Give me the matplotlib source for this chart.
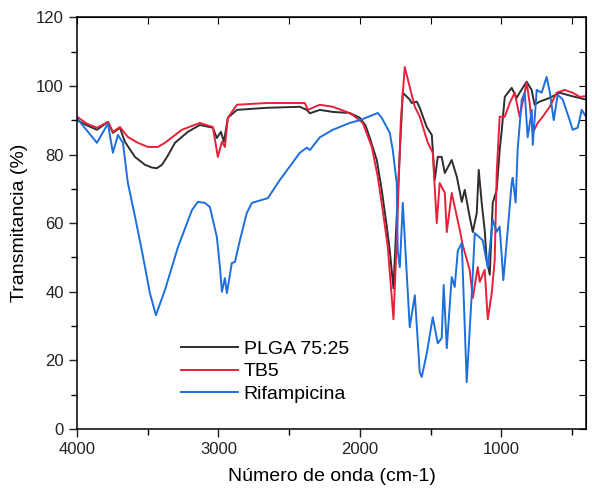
import matplotlib
matplotlib.use("Agg")
import matplotlib.pyplot as plt
from matplotlib.ticker import MultipleLocator

plt.rcParams["font.family"] = ["Liberation Sans", "DejaVu Sans"]

# FTIR spectra (wavenumber cm-1, transmittance %)
plga_x = [4000, 3930, 3859, 3781, 3746, 3696, 3661, 3590, 3519, 3470, 3435,
          3399, 3360, 3307, 3216, 3131, 3039, 3011, 2982, 2961, 2933, 2869,
          2657, 2424, 2375, 2353, 2283, 2191, 2071, 2000, 1960, 1929, 1880,
          1845, 1809, 1788, 1762, 1730, 1696, 1647, 1633, 1597, 1576, 1527,
          1491, 1470, 1449, 1421, 1399, 1350, 1314, 1279, 1258, 1223, 1201,
          1173, 1159, 1138, 1117, 1103, 1081, 1060, 1032, 1011, 996, 975,
          926, 891, 870, 820, 785, 764, 728, 657, 587, 500, 400]
plga_y = [90, 88.5, 87.2, 89.5, 86.3, 87.8, 83.7, 79.3, 77, 76.2, 76,
          77, 79.5, 83.4, 86.6, 88.6, 87.8, 84.8, 86.6, 83.7, 90.7, 93,
          93.6, 93.9, 93, 92, 93, 92.4, 92.1, 90.7, 88.5, 84.8, 78.4,
          69.7, 59, 52, 41, 70, 98, 96, 95, 95.4, 93.6, 88,
          85.7, 72.6, 79.3, 79.3, 74.6, 78.4, 73.5, 66.2, 69.7, 61.8, 57.4,
          63, 75.5, 65.9, 58, 49.3, 45, 65.9, 69.7, 81.3, 87.2, 96.8,
          99.4, 96.5, 98, 101.2, 98.8, 94.5, 95.4, 96.5, 98, 97, 96]

tb5_x = [4000, 3930, 3859, 3781, 3746, 3696, 3640, 3569, 3498, 3428, 3378,
         3258, 3131, 3039, 3004, 2975, 2954, 2933, 2869, 2657, 2389, 2367,
         2283, 2191, 2092, 2050, 1979, 1915, 1873, 1838, 1802, 1762, 1739,
         1710, 1682, 1647, 1611, 1576, 1519, 1484, 1456, 1435, 1399, 1385,
         1350, 1293, 1272, 1223, 1201, 1166, 1152, 1117, 1095, 1067, 1046,
         1032, 1011, 975, 940, 905, 870, 820, 799, 777, 742, 707, 657, 608,
         551, 495, 445, 400]
tb5_y = [91, 89, 87.8, 89.5, 86.6, 88, 85.1, 83.4, 82.2, 82.2, 83.4,
         87.2, 89.2, 88, 79.3, 83.7, 82.2, 90.7, 94.5, 95, 95, 93,
         94.5, 93.9, 92.4, 91.5, 89.2, 82.2, 73.5, 63.8, 53, 32, 55,
         90, 105.5, 99.7, 93.9, 91, 83.4, 80.5, 60, 71.7, 68.8, 57.4,
         68.8, 58, 53.6, 46.4, 38.2, 47.2, 42.9, 46.4, 32, 39.7, 49.3,
         74.6, 91, 91, 95, 98, 91, 100.9, 95, 86.3, 89.2, 91, 93.9, 98,
         98.8, 98, 96.8, 97]

rif_x = [4000, 3930, 3859, 3781, 3746, 3710, 3675, 3640, 3590, 3541, 3484,
         3442, 3378, 3286, 3187, 3145, 3095, 3060, 3011, 2989, 2975, 2954,
         2940, 2905, 2883, 2848, 2799, 2763, 2650, 2565, 2424, 2375, 2353,
         2283, 2191, 2071, 2000, 1908, 1873, 1845, 1788, 1767, 1739, 1732,
         1717, 1696, 1647, 1611, 1576, 1562, 1527, 1484, 1449, 1421, 1407,
         1385, 1350, 1329, 1307, 1279, 1244, 1208, 1187, 1131, 1095, 1060,
         1032, 1011, 985, 954, 926, 919, 898, 884, 855, 834, 813, 784, 777,
         749, 714, 679, 657, 629, 601, 565, 516, 495, 459, 431, 400]
rif_y = [90.6, 87, 83.4, 89, 80.5, 85.7, 83.4, 71.7, 62, 52, 39.6,
         33.2, 40.5, 53, 63.8, 66.2, 65.9, 64.7, 56, 47.2, 40, 44,
         39.6, 48.4, 48.7, 55, 63, 65.9, 67.3, 72.6, 80.5, 82, 81.3,
         85, 87.2, 89.2, 90, 91.5, 92.1, 90.7, 86.3, 81.3, 71.7, 52,
         47.2, 65.9, 29.7, 39, 16.5, 15.2, 22, 32.6, 25, 26.5, 42,
         23.6, 44.3, 41.4, 52, 54.2, 13.7, 39.7, 57.1, 55, 47, 61,
         57.5, 59, 43.4, 58, 71.7, 73.2, 66, 81.3, 96, 98, 85, 93, 82.8,
         98.8, 98, 102.6, 98.3, 90, 97.4, 96, 90, 87.2, 87.8, 93, 91]

labels = ["PLGA 75:25", "TB5", "Rifampicina"]
colors = ["#2e2e2e", "#e8213a", "#1c6fdc"]

fig = plt.figure(figsize=(5.92, 4.91), dpi=100)
ax = fig.add_axes([0.130, 0.126, 0.860, 0.839])

for xs, ys, lab, c in zip([plga_x, tb5_x, rif_x], [plga_y, tb5_y, rif_y],
                          labels, colors):
    ax.plot(xs, ys, color=c, lw=1.4, label=lab)

ax.set_xlim(4000, 400)
ax.set_ylim(0, 120)
ax.xaxis.set_major_locator(MultipleLocator(1000))
ax.xaxis.set_minor_locator(MultipleLocator(500))
ax.yaxis.set_major_locator(MultipleLocator(20))
ax.yaxis.set_minor_locator(MultipleLocator(10))
ax.tick_params(which="major", direction="out", length=6, width=1,
               labelsize=12, colors="#222")
ax.tick_params(which="minor", direction="out", length=4, width=1)

# inward ticks on top and right, no labels
top = ax.secondary_xaxis("top")
top.xaxis.set_major_locator(MultipleLocator(500))
top.tick_params(direction="in", length=5, labeltop=False)
right = ax.secondary_yaxis("right")
right.yaxis.set_major_locator(MultipleLocator(10))
right.tick_params(direction="in", length=5, labelright=False)

for sp in ax.spines.values():
    sp.set_linewidth(1.1)

ax.set_xlabel("Número de onda (cm-1)", fontsize=14, labelpad=8)
ax.set_ylabel("Transmitancia (%)", fontsize=14, labelpad=6)

ax.legend(loc="lower left", bbox_to_anchor=(0.19, 0.045), frameon=False,
          fontsize=14, handlelength=2.9, handletextpad=0.3,
          labelspacing=0.25, borderaxespad=0)

fig.savefig("out.png", dpi=100)
